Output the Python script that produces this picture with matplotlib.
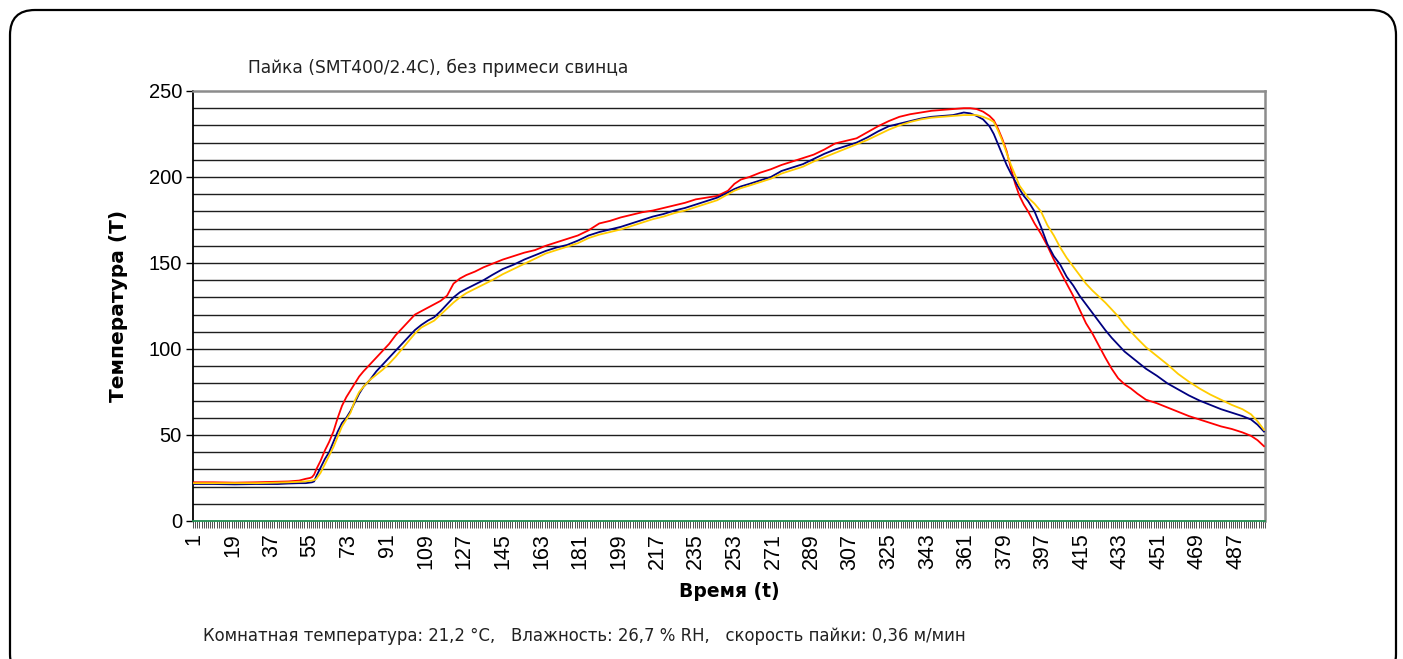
import matplotlib
matplotlib.use("Agg")
import matplotlib.pyplot as plt
from matplotlib.patches import FancyBboxPatch
from matplotlib.ticker import FixedLocator
import numpy as np

# ---- data ----
t = [1, 10, 20, 30, 40, 45, 50, 53, 55, 56, 57, 58, 60, 62, 64, 66, 68, 70, 72, 74,
     76, 78, 80, 83, 86, 89, 92, 95, 98, 101, 104, 107, 110, 113, 116, 119, 122, 125,
     128, 132, 136, 140, 145, 150, 155, 160, 165, 170, 175, 180, 185, 190, 195, 200,
     205, 210, 215, 220, 225, 230, 235, 240, 245, 250, 253, 256, 260, 265, 270, 275,
     280, 285, 290, 295, 300, 305, 310, 315, 320, 325, 330, 335, 340, 345, 350, 355,
     360, 363, 366, 369, 372, 374, 376, 378, 380, 382, 384, 386, 388, 390, 393, 396,
     399, 402, 405, 408, 411, 414, 417, 420, 423, 426, 429, 432, 435, 438, 441, 445,
     450, 455, 460, 465, 470, 475, 480, 485, 490, 494, 497, 500]

red = [22.5, 22.5, 22.3, 22.5, 22.8, 23, 23.5, 24.5, 25, 25.5, 27, 30, 35, 41, 46, 52, 60, 67, 72, 76,
       80, 84, 87, 91, 95, 99, 103, 108, 112, 116, 120, 122, 124, 126, 128, 131, 138, 141,
       143, 145, 147.5, 149.5, 152, 154, 156, 157.5, 160, 162, 164, 166, 169, 173, 174.5, 176.5,
       178, 179.5, 180.5, 182, 183.5, 185, 187, 188, 189, 192, 196, 198.5, 200, 202.5, 204.5, 207,
       209, 211, 213, 216, 219.5, 221, 222.5, 226, 229.5, 232.5, 235, 236.5, 237.5, 238.5, 239, 239.5,
       240, 240, 239.5, 238, 235.5, 233, 228, 222, 215, 205, 196, 189, 184, 180, 173, 167,
       160, 152, 145, 138, 131, 123, 115, 109, 102, 95, 88.5, 83, 79.5, 77, 74, 70.5,
       68.5, 66, 63.5, 61, 59, 57, 55, 53.5, 51.5, 49.5, 47, 43.5]

blue = [21.5, 21.5, 21.3, 21.5, 21.5, 21.8, 22, 22, 22.3, 22.5, 23, 26, 31, 36, 40, 46, 52, 57, 60, 64,
        69, 74, 78, 82, 87, 91, 95, 99, 103, 107, 111, 114, 116.5, 118.5, 122, 126, 130, 133,
        135, 137.5, 140, 143, 146.5, 149, 152, 154.5, 157, 159, 160.5, 163, 166, 168, 169.5, 171,
        173, 175, 177, 178.5, 180.5, 182, 184, 186, 188, 191, 193, 194.5, 196, 198, 200, 203.5,
        205.5, 207.5, 210.5, 213.5, 216, 218, 220, 223, 226.5, 229.5, 231, 232.5, 234, 235, 235.5, 236,
        237.5, 237, 235.5, 233.5, 229.5, 225, 219, 213, 207, 202, 197.5, 193, 189, 186, 180, 171,
        161, 154, 149, 142, 137, 131, 126, 121, 116, 111, 106.5, 102.5, 98.5, 95.5, 92.5, 88.5,
        84.5, 80, 76.5, 73, 70, 67.5, 65, 63, 61, 59, 56, 52]

yellow = [22, 22, 22, 22, 22.3, 22.5, 22.8, 23, 23.3, 23.5, 23.8, 24.5, 28, 33, 38, 43, 49, 55, 59, 63,
          70, 75, 78, 82, 85, 88, 91.5, 95.5, 100, 104.5, 109, 112.5, 114.5, 116.5, 120, 123.5, 127, 130,
          132.5, 135, 137.5, 140, 143.5, 146.5, 149.5, 152.5, 155.5, 157.5, 159.5, 161.5, 164.5, 166.5, 168, 169.5,
          171.5, 173.5, 175.5, 177, 179, 180.5, 182.5, 184.5, 186.5, 190, 192, 193.5, 195, 197, 199, 202,
          204, 206, 209, 211.5, 214, 216.5, 219, 221.5, 224.5, 227.5, 230, 232, 233.5, 234.5, 235, 235.5,
          236, 236, 236, 235, 233.5, 232, 227, 221, 214, 207, 201, 195, 191.5, 188, 184.5, 180,
          172, 166, 159, 153, 148, 143, 138, 134, 130.5, 127, 123, 119, 114, 110, 106, 101,
          96, 91, 85.5, 81, 77, 73.5, 70.5, 67.5, 65, 62, 58, 53]

n_points = 500
xtick_labels = list(range(1, 501, 18))
yticks = [0, 50, 100, 150, 200, 250]

title = "Пайка (SMT400/2.4C), без примеси свинца"
ylabel = "Температура (T)"
xlabel = "Время (t)"
footer = "Комнатная температура: 21,2 °C,   Влажность: 26,7 % RH,   скорость пайки: 0,36 м/мин"

# ---- figure ----
W, H = 1403, 659
fig = plt.figure(figsize=(W / 100, H / 100), dpi=100)
fig.patch.set_facecolor("white")

# rounded frame (inches, bottom edge runs just below the image)
frame = FancyBboxPatch((0.10, -0.20), 13.86, 6.69,
                       boxstyle="round,pad=0,rounding_size=0.25",
                       transform=fig.dpi_scale_trans, fill=False,
                       edgecolor="black", linewidth=1.6, clip_on=False)
fig.patches.append(frame)

left, right, top, bottom = 193, 1265, 91, 521
ax = fig.add_axes([left / W, (H - bottom) / H, (right - left) / W, (bottom - top) / H])

# gridlines every 10
for g in range(10, 250, 10):
    ax.axhline(g, color="#1e1e1e", lw=1.0, zorder=1)

ax.plot(t, red, color="#FF0000", lw=1.3, zorder=3)
ax.plot(t, blue, color="#000080", lw=1.3, zorder=4)
ax.plot(t, yellow, color="#FFCC00", lw=1.3, zorder=5)

ax.set_xlim(0.5, n_points + 0.5)
ax.set_ylim(0, 250)

# spines
ax.spines["left"].set_color("black")
ax.spines["left"].set_linewidth(1.3)
ax.spines["top"].set_color("#8c8c8c")
ax.spines["top"].set_linewidth(1.8)
ax.spines["right"].set_color("#8c8c8c")
ax.spines["right"].set_linewidth(1.8)
ax.spines["bottom"].set_color("#1f8f4f")
ax.spines["bottom"].set_linewidth(1.3)

# y axis
ax.set_yticks(yticks)
ax.set_yticklabels([str(v) for v in yticks], family="Liberation Sans", fontsize=14.5)
ax.tick_params(axis="y", direction="out", length=5, width=1.0, color="black", pad=3)

# x axis: a tick per category boundary, labels every 18
ax.xaxis.set_major_locator(FixedLocator(xtick_labels))
ax.set_xticklabels([str(v) for v in xtick_labels], rotation=90,
                   family="Liberation Sans", fontsize=15.5)
ax.xaxis.set_minor_locator(FixedLocator(np.arange(0.5, n_points + 1, 1.0)))
ax.tick_params(axis="x", which="major", length=0, pad=9)
ax.tick_params(axis="x", which="minor", direction="out", length=5, width=0.7, color="#505050")

ax.set_ylabel(ylabel, family="DejaVu Sans", fontweight="bold", fontsize=14.5, labelpad=15)
ax.set_xlabel(xlabel, family="DejaVu Sans", fontweight="bold", fontsize=13.5, labelpad=9)

fig.text(248 / W, 1 - 68 / H, title, ha="left", va="center",
         family="DejaVu Sans", fontsize=12.3, color="#222222")
fig.text(203 / W, 1 - 636 / H, footer, ha="left", va="center",
         family="DejaVu Sans", fontsize=11.9, color="#222222")

fig.savefig("out.png", dpi=100, facecolor="white")
